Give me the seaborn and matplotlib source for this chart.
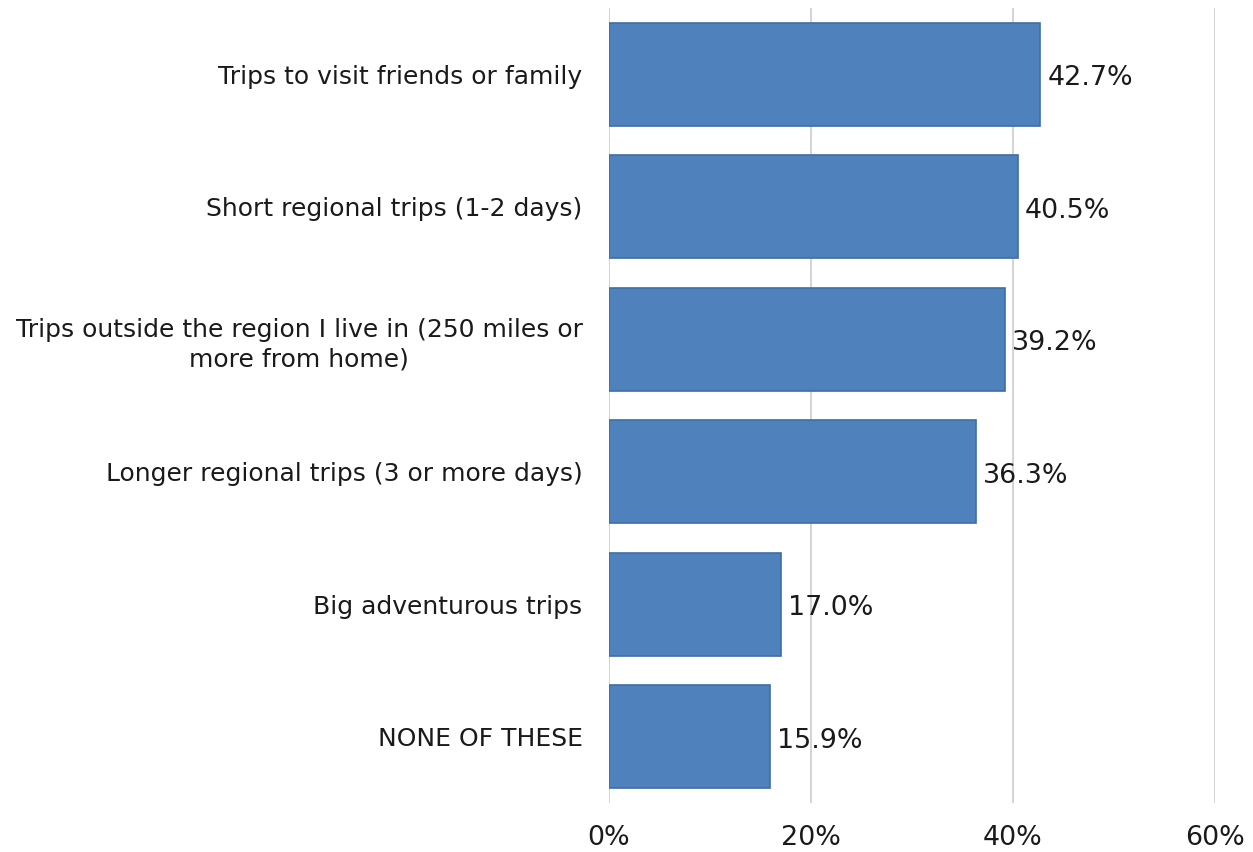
import matplotlib
matplotlib.use("Agg")
import matplotlib.pyplot as plt
import seaborn as sns
import pandas as pd
from matplotlib.ticker import FuncFormatter

categories = [
    "Trips to visit friends or family",
    "Short regional trips (1-2 days)",
    "Trips outside the region I live in (250 miles or\nmore from home)",
    "Longer regional trips (3 or more days)",
    "Big adventurous trips",
    "NONE OF THESE",
]
values = [42.7, 40.5, 39.2, 36.3, 17.0, 15.9]
x_ticks = [0, 20, 40, 60]

df = pd.DataFrame({"category": categories, "value": values})

sns.set_theme(style="white")
plt.rcParams["font.family"] = ["DejaVu Sans"]

fig = plt.figure(figsize=(12.53, 8.52), dpi=100)
ax = fig.add_axes([609 / 1253, 1 - 803 / 852, (1215 - 609) / 1253, (803 - 8) / 852])

sns.barplot(data=df, x="value", y="category", orient="h", color="#4F81BD",
            saturation=1, width=0.78, edgecolor="#3E6EA6", linewidth=1.2, ax=ax, zorder=3)

ax.set_xlim(0, 60)
ax.set_ylim(len(categories) - 0.5, -0.5)
ax.set_xticks(x_ticks)
ax.xaxis.set_major_formatter(FuncFormatter(lambda v, p: f"{v:.0f}%"))
ax.grid(axis="x", color="#D0D0D0", linewidth=1.3, zorder=0)
ax.grid(axis="y", visible=False)
for s in ax.spines.values():
    s.set_visible(False)
ax.set_xlabel("")
ax.set_ylabel("")
ax.tick_params(axis="x", length=0, pad=16, labelsize=19.4, labelcolor="#1a1a1a")
ax.tick_params(axis="y", length=0, pad=19, labelsize=18, labelcolor="#1a1a1a")
for lbl in ax.get_yticklabels():
    lbl.set_horizontalalignment("right")
    lbl.set_multialignment("center")
    lbl.set_linespacing(1.3)

for i, v in enumerate(values):
    ax.text(v + 0.7, i + 0.03, f"{v:.1f}%", va="center", ha="left", fontsize=19.4, color="#1a1a1a")

fig.savefig("out.png", dpi=100)
